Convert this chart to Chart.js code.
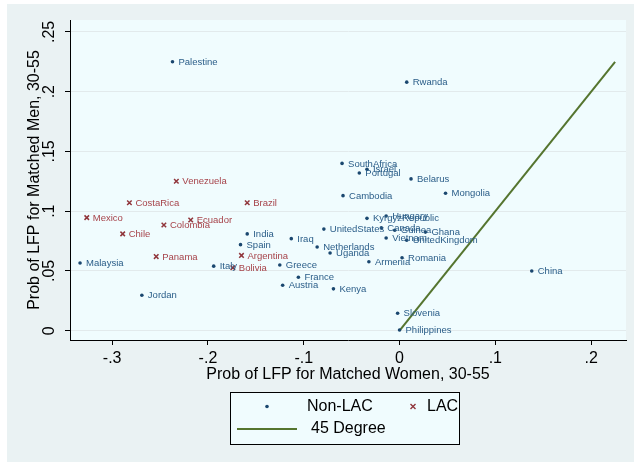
<!DOCTYPE html>
<html>
<head>
<meta charset="utf-8">
<script src="https://cdn.jsdelivr.net/npm/chart.js@4/dist/chart.umd.min.js"></script>
<style>
  html, body { margin: 0; padding: 0; background: #ffffff; }
  canvas { display: block; }
</style>
</head>
<body>
<canvas id="myChart" width="634" height="462"></canvas>
<script>
// values
var nonLacNames = ["Palestine", "Rwanda", "SouthAfrica", "Israel", "Portugal", "Belarus", "Mongolia", "Cambodia",
  "KyrgyzRepublic", "Hungary", "UnitedStates", "Canada", "Guinea", "Ghana", "Vietnam", "UnitedKingdom",
  "Iraq", "Netherlands", "Uganda", "Armenia", "Romania", "France", "Austria", "Kenya", "Slovenia",
  "Philippines", "China", "India", "Spain", "Malaysia", "Italy", "Greece", "Jordan"];
var nonLacX = [-0.237, 0.0075, -0.060, -0.034, -0.042, 0.012, 0.048, -0.059,
  -0.034, -0.014, -0.079, -0.019, -0.005, 0.027, -0.014, 0.0075,
  -0.113, -0.086, -0.0725, -0.032, 0.0026, -0.1056, -0.122, -0.069, -0.002,
  0.000, 0.138, -0.159, -0.166, -0.3335, -0.194, -0.125, -0.269];
var nonLacY = [0.225, 0.208, 0.140, 0.135, 0.132, 0.127, 0.115, 0.113,
  0.094, 0.096, 0.085, 0.086, 0.084, 0.0825, 0.0775, 0.0757,
  0.077, 0.070, 0.065, 0.0577, 0.061, 0.0447, 0.038, 0.035, 0.0146,
  0.0006, 0.050, 0.081, 0.072, 0.0567, 0.054, 0.055, 0.0296];

var lacNames = ["Venezuela", "CostaRica", "Brazil", "Mexico", "Ecuador", "Colombia", "Chile", "Argentina", "Panama", "Bolivia"];
var lacX = [-0.233, -0.282, -0.159, -0.3265, -0.218, -0.246, -0.289, -0.165, -0.254, -0.174];
var lacY = [0.125, 0.107, 0.107, 0.0946, 0.0926, 0.0885, 0.081, 0.063, 0.062, 0.0527];

var lineX = [0, 0.225];
var lineY = [0, 0.225];

var xTicks = [-0.3, -0.2, -0.1, 0, 0.1, 0.2];
var xTickLabels = ["-.3", "-.2", "-.1", "0", ".1", ".2"];
var yTicks = [0, 0.05, 0.1, 0.15, 0.2, 0.25];
var yTickLabels = ["0", ".05", ".1", ".15", ".2", ".25"];

var navy = "#1a476f";
var maroon = "#90353b";
var green = "#55752f";
var plotBg = "#f0fcfe";
var outerBg = "#eaf2f3";
var fontFam = "'Liberation Sans', Arial, sans-serif";

function toPoints(xs, ys) {
  return xs.map(function (v, i) { return { x: v, y: ys[i] }; });
}

// backgrounds
var bgPlugin = {
  id: 'bg',
  beforeDraw: function (chart) {
    var c = chart.ctx, a = chart.chartArea;
    c.save();
    c.fillStyle = "#ffffff";
    c.fillRect(0, 0, chart.width, chart.height);
    c.fillStyle = outerBg;
    c.fillRect(7, 4, chart.width - 7, chart.height - 4);
    c.fillStyle = plotBg;
    c.fillRect(a.left, a.top, a.right - a.left, a.bottom - a.top);
    c.restore();
  }
};

// country names next to the markers
var labelPlugin = {
  id: 'pointLabels',
  afterDatasetsDraw: function (chart) {
    var c = chart.ctx;
    var sets = [[0, nonLacNames, "#2a5d88"], [1, lacNames, "#a6434a"]];
    c.save();
    c.font = "9.5px " + fontFam;
    c.textBaseline = "middle";
    c.textAlign = "left";
    sets.forEach(function (s) {
      var meta = chart.getDatasetMeta(s[0]);
      c.fillStyle = s[2];
      meta.data.forEach(function (pt, i) {
        c.fillText(s[1][i], pt.x + 6, pt.y + 0.5);
      });
    });
    c.restore();
  }
};

// stata style legend box under the plot
var legendPlugin = {
  id: 'boxLegend',
  afterDraw: function (chart) {
    var c = chart.ctx;
    var ds = chart.data.datasets;
    c.save();
    c.fillStyle = plotBg;
    c.fillRect(230.5, 392.5, 229, 52);
    c.strokeStyle = "#000";
    c.lineWidth = 1;
    c.strokeRect(230.5, 392.5, 229, 52);

    c.fillStyle = navy;
    c.beginPath();
    c.arc(267, 406.5, 1.8, 0, Math.PI * 2);
    c.fill();

    c.strokeStyle = maroon;
    c.lineWidth = 1.4;
    c.beginPath();
    c.moveTo(410.5, 404); c.lineTo(415.5, 409);
    c.moveTo(415.5, 404); c.lineTo(410.5, 409);
    c.stroke();

    c.strokeStyle = green;
    c.lineWidth = 2;
    c.beginPath();
    c.moveTo(237, 429); c.lineTo(297, 429);
    c.stroke();

    c.fillStyle = "#000";
    c.font = "16px " + fontFam;
    c.textBaseline = "middle";
    c.fillText(ds[0].label, 307, 406.5);
    c.fillText(ds[1].label, 427, 406.5);
    c.fillText(ds[2].label, 311, 429);
    c.restore();
  }
};

var ctx = document.getElementById("myChart");

var myChart = new Chart(ctx, {
  type: 'scatter',
  data: {
    datasets: [{
      label: 'Non-LAC',
      data: toPoints(nonLacX, nonLacY),
      pointStyle: 'circle',
      pointRadius: 1.8,
      pointBackgroundColor: navy,
      pointBorderWidth: 0,
      borderColor: navy
    }, {
      label: 'LAC',
      data: toPoints(lacX, lacY),
      pointStyle: 'crossRot',
      pointRadius: 3.2,
      pointBorderWidth: 1.5,
      pointBorderColor: maroon,
      borderColor: maroon
    }, {
      type: 'line',
      label: '45 Degree',
      data: toPoints(lineX, lineY),
      borderColor: green,
      borderWidth: 2,
      pointRadius: 0,
      fill: false
    }]
  },
  options: {
    responsive: false,
    devicePixelRatio: 1,
    animation: false,
    layout: {
      padding: { left: 0, right: 8, top: 20, bottom: 78 }
    },
    plugins: {
      legend: { display: false },
      tooltip: { enabled: false }
    },
    scales: {
      x: {
        type: 'linear',
        min: -0.344,
        max: 0.2364,
        afterBuildTicks: function (scale) {
          scale.ticks = xTicks.map(function (v) { return { value: v }; });
        },
        afterFit: function (scale) { scale.height = 44; },
        grid: { drawOnChartArea: false, tickLength: 5, tickColor: '#000' },
        border: { display: true, color: '#000', width: 1 },
        ticks: {
          padding: 4,
          color: '#000',
          font: { family: fontFam, size: 16 },
          maxRotation: 0,
          callback: function (v, i) { return xTickLabels[i]; }
        },
        title: {
          display: true,
          text: 'Prob of LFP for Matched Women, 30-55',
          color: '#000',
          font: { family: fontFam, size: 16 },
          padding: { top: 0, bottom: 0 }
        }
      },
      y: {
        type: 'linear',
        min: -0.0078,
        max: 0.26,
        afterBuildTicks: function (scale) {
          scale.ticks = yTicks.map(function (v) { return { value: v }; });
        },
        afterFit: function (scale) { scale.width = 70; },
        grid: { color: '#e2eaec', tickLength: 5, tickColor: '#000' },
        border: { display: true, color: '#000', width: 1 },
        ticks: {
          padding: 4,
          color: '#000',
          crossAlign: 'center',
          minRotation: 90,
          maxRotation: 90,
          font: { family: fontFam, size: 16 },
          callback: function (v, i) { return yTickLabels[i]; }
        },
        title: {
          display: true,
          text: 'Prob of LFP for Matched Men, 30-55',
          color: '#000',
          font: { family: fontFam, size: 16 },
          padding: { top: 25, bottom: 0 }
        }
      }
    }
  },
  plugins: [bgPlugin, labelPlugin, legendPlugin]
});
</script>
</body>
</html>
